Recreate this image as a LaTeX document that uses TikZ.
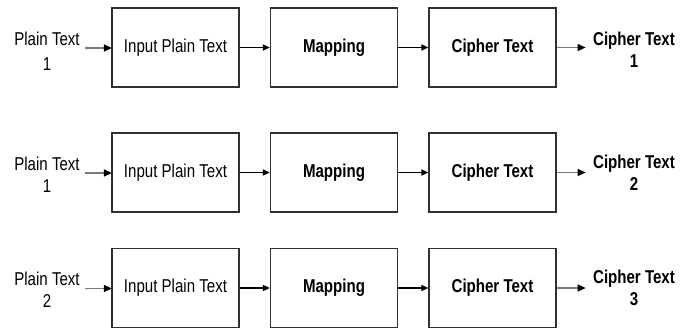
\documentclass[tikz,border=0pt]{standalone}
\usepackage{fontspec}
\setmainfont{Liberation Sans}[FakeStretch=0.81]
\usetikzlibrary{arrows.meta}
\definecolor{boxline}{HTML}{303030}
\definecolor{feedline}{HTML}{7A7A7A}
\begin{document}
\begin{tikzpicture}[x=1pt,y=-1pt,
  txt/.style={font=\fontsize{18.6}{22}\selectfont,inner sep=0pt,align=center},
  stage/.style={draw=boxline,line width=1.3pt,minimum width=127pt,minimum height=79pt,
    inner sep=0pt,font=\fontsize{18.6}{22}\selectfont},
  feed/.style={draw=feedline,line width=1.3pt,
    -{Triangle[length=8pt,width=7pt,color=black]},shorten >=-0.5pt},
  link/.style={draw=black,line width=1.9pt,-{Triangle[length=7pt,width=6pt]}},
  outflow/.style={draw=feedline,line width=1.3pt,
    -{Triangle[length=8pt,width=7pt,color=black]}}]
\useasboundingbox (0,0) rectangle (689,329);

% one encryption chain per row: label -> input -> mapping -> cipher -> label
\foreach \r/\y/\pin/\cout/\sp/\tp in
  {1/47.5/1/1/3.5/1.8, 2/172.5/1/2/0/0, 3/288/2/3/0/0} {
  \node[stage] (in\r)  at (175.5,\y) {Input Plain Text};
  \node[stage] (map\r) at (334,\y)   {\bfseries Mapping};
  \node[stage] (ci\r)  at (492.5,\y) {\bfseries Cipher Text};
  \node[txt] (pt\r) at (47,\y+2+\sp/2) {Plain Text\\[\sp pt]\pin};
  \node[txt,font=\fontsize{18.6}{22}\selectfont\bfseries] (ct\r) at (634,\y+\tp)
    {Cipher Text\\\cout};
  \coordinate (src\r) at (85,\y+0.5);
  \draw[feed] (src\r) -- (src\r -| in\r.west);
  \draw[link] (in\r) -- (map\r);
  \draw[link] (map\r) -- (ci\r);
  \draw[outflow] (ci\r.east) -- ++(29,0) coordinate (dst\r);
}
\end{tikzpicture}
\end{document}
